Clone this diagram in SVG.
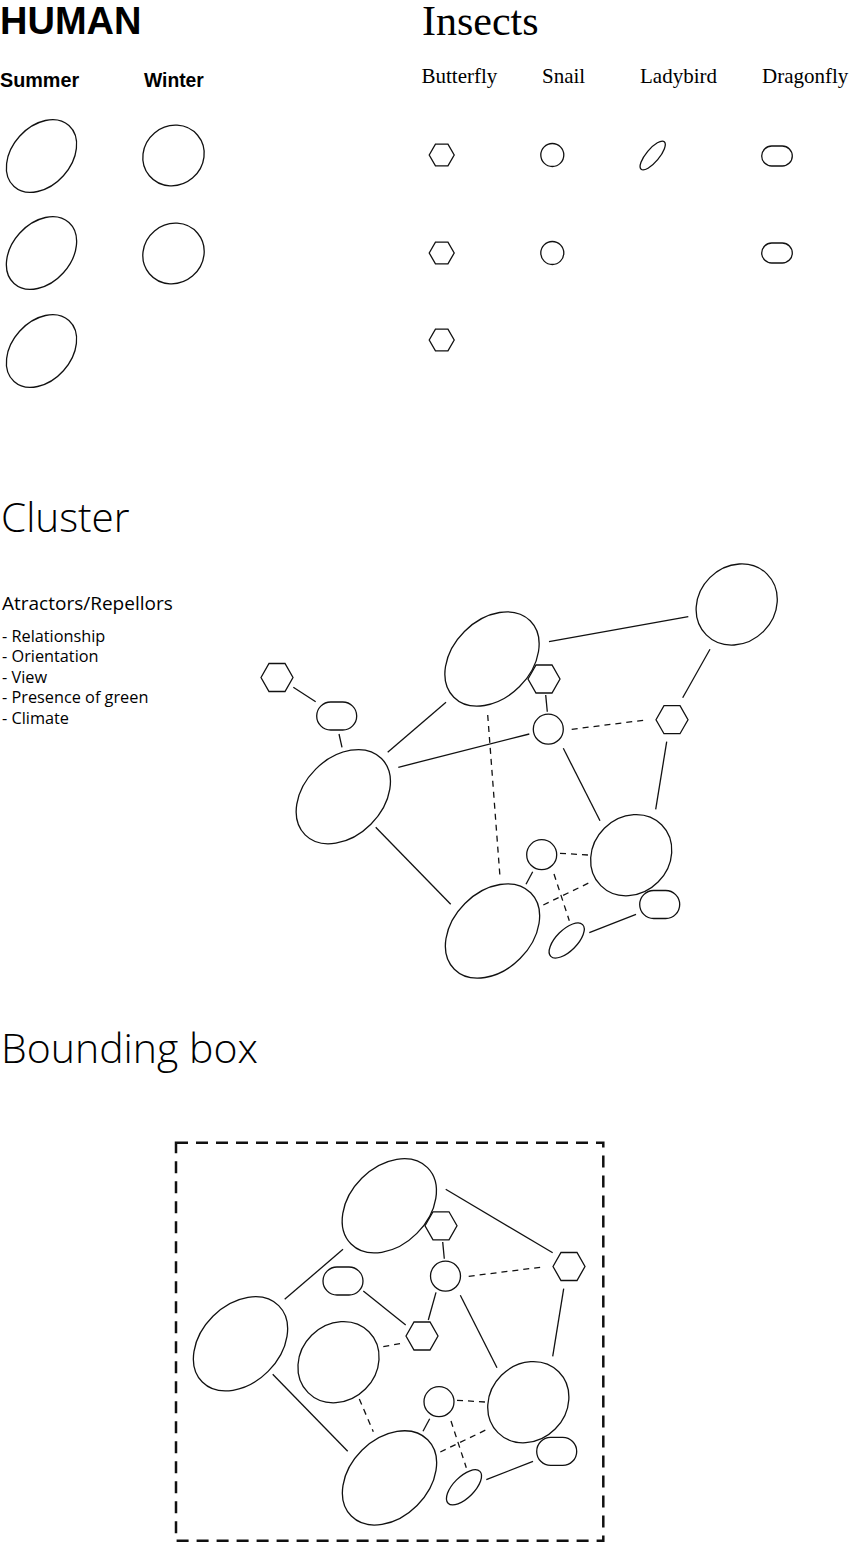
<svg xmlns="http://www.w3.org/2000/svg" xmlns:xlink="http://www.w3.org/1999/xlink" width="850" height="1543" viewBox="0 0 850 1543">
<style>
.s{fill:none;stroke:#111;stroke-width:1.3}
.c line{stroke:#111;stroke-width:1.3}
.c line.d{stroke-dasharray:6 5}
.h{font-family:"Liberation Sans",Arial,sans-serif;font-weight:bold;fill:#000}
.t{font-family:"Liberation Serif","Times New Roman",serif;fill:#000}
.o{font-family:"Open Sans","Noto Sans",sans-serif;fill:#000}
.ol{font-family:"Open Sans","Noto Sans",sans-serif;font-weight:300;fill:#000}
</style>
<defs>
<polygon id="hexS" class="s" points="-12.5,0 -6.25,-10.8 6.25,-10.8 12.5,0 6.25,10.8 -6.25,10.8"/>
<polygon id="hexL" class="s" points="-16,0 -8,-14 8,-14 16,0 8,14 -8,14"/>
<ellipse id="ellBig" class="s" rx="54" ry="39" transform="rotate(-45)"/>
<ellipse id="ellMid" class="s" rx="43" ry="38" transform="rotate(-45)"/>
<ellipse id="ellSm" class="s" rx="22.5" ry="10.5" transform="rotate(-45)"/>
<ellipse id="ellLady" class="s" rx="18" ry="6.5" transform="rotate(-50)"/>
<ellipse id="ellSum" class="s" rx="41" ry="29.5" transform="rotate(-48)"/>
<ellipse id="ellWin" class="s" rx="31.5" ry="29.5" transform="rotate(-40)"/>
<rect id="pillS" class="s" x="-15.3" y="-10" width="30.6" height="20" rx="10"/>
<rect id="pillL" class="s" x="-20" y="-14" width="40" height="28" rx="14"/>
<circle id="circS" class="s" r="11.5"/>
<circle id="circL" class="s" r="15"/>
</defs>

<g id="human">
<text class="h" x="0" y="34" font-size="38">HUMAN</text>
<text class="h" x="0" y="87" font-size="19.8">Summer</text>
<text class="h" x="144" y="87" font-size="19.3">Winter</text>
<g id="summer-1"><use xlink:href="#ellSum" x="41.5" y="156"/></g>
<g id="summer-2"><use xlink:href="#ellSum" x="41.5" y="253"/></g>
<g id="summer-3"><use xlink:href="#ellSum" x="41.5" y="351"/></g>
<g id="winter-1"><use xlink:href="#ellWin" x="173.5" y="155.5"/></g>
<g id="winter-2"><use xlink:href="#ellWin" x="173.5" y="253.5"/></g>
</g>

<g id="insects">
<text class="t" x="422" y="35" font-size="42">Insects</text>
<text class="t" x="421.5" y="83" font-size="21">Butterfly</text>
<text class="t" x="542" y="83" font-size="21">Snail</text>
<text class="t" x="640" y="83" font-size="21">Ladybird</text>
<text class="t" x="762" y="83" font-size="21">Dragonfly</text>
<g id="butterfly-1"><use xlink:href="#hexS" x="441.7" y="155"/></g>
<g id="butterfly-2"><use xlink:href="#hexS" x="441.7" y="253"/></g>
<g id="butterfly-3"><use xlink:href="#hexS" x="441.7" y="340"/></g>
<g id="snail-1"><use xlink:href="#circS" x="552.3" y="155"/></g>
<g id="snail-2"><use xlink:href="#circS" x="552.3" y="253"/></g>
<g id="ladybird-1"><use xlink:href="#ellLady" x="652.7" y="155.5"/></g>
<g id="dragonfly-1"><use xlink:href="#pillS" x="777" y="156"/></g>
<g id="dragonfly-2"><use xlink:href="#pillS" x="777" y="253"/></g>
</g>

<g id="cluster-text">
<text class="ol" x="1" y="531.5" font-size="40.5">Cluster</text>
<text class="o" x="2" y="610" font-size="19">Atractors/Repellors</text>
<text class="o" x="2" y="641.5" font-size="16.3">- Relationship</text>
<text class="o" x="2" y="662" font-size="16.3">- Orientation</text>
<text class="o" x="2" y="682.5" font-size="16.3">- View</text>
<text class="o" x="2" y="703" font-size="16.3">- Presence of green</text>
<text class="o" x="2" y="723.5" font-size="16.3">- Climate</text>
</g>

<g id="cluster-connectors" class="c">
<line x1="293.3" y1="687.3" x2="315.7" y2="701.7"/>
<line x1="339" y1="734" x2="342" y2="747.3"/>
<line x1="387.7" y1="752.3" x2="446" y2="702.3"/>
<line x1="398.3" y1="767.3" x2="529.3" y2="734"/>
<line x1="549" y1="641.7" x2="688.3" y2="616.7"/>
<line x1="545.7" y1="695" x2="547.3" y2="711.7"/>
<line x1="710" y1="649.3" x2="682.7" y2="697.7"/>
<line x1="666.7" y1="741.7" x2="655.7" y2="809.3"/>
<line x1="563.3" y1="748.3" x2="600" y2="820.7"/>
<line x1="375.7" y1="827.3" x2="450.7" y2="904.3"/>
<line x1="532.7" y1="871.7" x2="526" y2="884.3"/>
<line x1="589.3" y1="932.7" x2="636" y2="914.3"/>
<line class="d" x1="487.7" y1="715" x2="500" y2="877"/>
<line class="d" x1="571.7" y1="729.3" x2="645.7" y2="720"/>
<line class="d" x1="560" y1="853.3" x2="588.3" y2="855"/>
<line class="d" x1="554" y1="874" x2="569.3" y2="920.7"/>
<line class="d" x1="543.3" y1="905" x2="589.3" y2="882.7"/>
</g>
<g id="cl-hexL"><use xlink:href="#hexL" x="277" y="677.5"/></g>
<g id="cl-pillL"><use xlink:href="#pillL" x="336.7" y="716"/></g>
<g id="cl-A"><use xlink:href="#ellBig" x="492" y="659"/></g>
<g id="cl-B"><use xlink:href="#ellMid" x="736.7" y="604.5"/></g>
<g id="cl-hexA"><use xlink:href="#hexL" x="544" y="679"/></g>
<g id="cl-circ1"><use xlink:href="#circL" x="548.3" y="729.2"/></g>
<g id="cl-hexR"><use xlink:href="#hexL" x="672" y="719.7"/></g>
<g id="cl-E"><use xlink:href="#ellBig" x="343.3" y="796.7"/></g>
<g id="cl-C"><use xlink:href="#ellMid" x="631.2" y="855.2"/></g>
<g id="cl-circ2"><use xlink:href="#circL" x="541.7" y="854.7"/></g>
<g id="cl-D"><use xlink:href="#ellBig" x="492.5" y="931"/></g>
<g id="cl-ellS"><use xlink:href="#ellSm" x="566.7" y="940.5"/></g>
<g id="cl-pillR"><use xlink:href="#pillL" x="659.7" y="904.5"/></g>

<g id="bbox-text">
<text class="ol" x="1" y="1062.7" font-size="41">Bounding box</text>
</g>
<g id="bbox-frame"><rect x="176" y="1142.7" width="427.3" height="398" fill="none" stroke="#111" stroke-width="2.5" stroke-dasharray="12 8"/></g>

<g id="bbox-connectors" class="c">
<line x1="445.7" y1="1189.3" x2="552.7" y2="1252.7"/>
<line x1="442.7" y1="1242" x2="444.3" y2="1258.7"/>
<line x1="563.7" y1="1288.7" x2="552.7" y2="1356.3"/>
<line x1="460.3" y1="1295.3" x2="497" y2="1367.7"/>
<line x1="436" y1="1292.3" x2="428.3" y2="1320"/>
<line x1="363.3" y1="1291" x2="405.7" y2="1325"/>
<line x1="284.7" y1="1299.3" x2="343" y2="1249.3"/>
<line x1="272.7" y1="1374.3" x2="347.7" y2="1451.3"/>
<line x1="429.7" y1="1418.7" x2="423" y2="1431.3"/>
<line x1="486.3" y1="1479.7" x2="533" y2="1461.3"/>
<line class="d" x1="468.7" y1="1276.3" x2="542.7" y2="1267"/>
<line class="d" x1="383.3" y1="1346.7" x2="405" y2="1342.7"/>
<line class="d" x1="359.3" y1="1399" x2="373.3" y2="1431.7"/>
<line class="d" x1="457" y1="1400.3" x2="485.3" y2="1402"/>
<line class="d" x1="451" y1="1421" x2="466.3" y2="1467.7"/>
<line class="d" x1="440.3" y1="1452" x2="486.3" y2="1429.7"/>
</g>
<g id="bb-A"><use xlink:href="#ellBig" x="389.3" y="1205.8"/></g>
<g id="bb-hexA"><use xlink:href="#hexL" x="441" y="1225.8"/></g>
<g id="bb-circ1"><use xlink:href="#circL" x="445.5" y="1276.1"/></g>
<g id="bb-hexR"><use xlink:href="#hexL" x="569" y="1266.5"/></g>
<g id="bb-pill"><use xlink:href="#pillL" x="343" y="1281"/></g>
<g id="bb-hex2"><use xlink:href="#hexL" x="422" y="1336"/></g>
<g id="bb-E"><use xlink:href="#ellBig" x="240.5" y="1343.8"/></g>
<g id="bb-F"><use xlink:href="#ellMid" x="338.5" y="1362.2"/></g>
<g id="bb-C"><use xlink:href="#ellMid" x="528.3" y="1402.2"/></g>
<g id="bb-circ2"><use xlink:href="#circL" x="439" y="1401.7"/></g>
<g id="bb-D"><use xlink:href="#ellBig" x="389.5" y="1477.9"/></g>
<g id="bb-ellS"><use xlink:href="#ellSm" x="464" y="1487.3"/></g>
<g id="bb-pillR"><use xlink:href="#pillL" x="556.7" y="1451.4"/></g>
</svg>
